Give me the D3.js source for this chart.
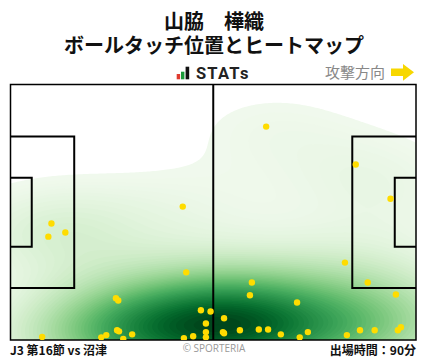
<!DOCTYPE html>
<html><head><meta charset="utf-8">
<script src="https://cdn.jsdelivr.net/npm/d3@7"></script>
<style>body{margin:0;background:#fff}svg{display:block}</style>
</head><body>
<script>
// ---- data ----
const titleLines = ["山脇　樺織", "ボールタッチ位置とヒートマップ"];
const footerLeft = "J3 第16節 vs 沼津";
const footerRight = "出場時間：90分";
const creditText = "© SPORTERIA";
const directionLabel = "攻撃方向";
const brandText = "STATs";
// touch positions, metres (x: 0-105 towards attack, y: 0-68 top to bottom)
const touchX = [66.2, 89.4, 98.4, 44.6, 10.6, 14.2, 9.8, 45.5, 27.3, 27.9, 8.2, 23.5, 24.8, 27.6, 28.1,
  29.2, 31.5, 44.9, 47.3, 49.3, 51.8, 50.6, 50.6, 50.6, 62.5, 62.0, 74.2, 55.3, 55.0, 55.3, 59.4,
  64.3, 66.7, 70.0, 74.9, 77.0, 86.6, 92.5, 99.8, 87.1, 90.5, 94.3, 100.3, 101.1];
const touchY = [11.2, 21.3, 30.4, 32.5, 37.0, 39.4, 40.5, 50.0, 56.9, 57.5, 67.2, 67.3, 66.7, 65.4, 65.7,
  67.7, 66.5, 67.5, 67.0, 60.1, 60.4, 63.6, 65.9, 67.3, 52.7, 56.1, 58.0, 62.2, 65.9, 66.2, 65.4,
  65.2, 65.2, 66.5, 67.3, 65.9, 47.4, 52.7, 55.9, 66.7, 65.4, 65.4, 65.4, 64.6];
const pitchLength = 105, pitchWidth = 68;
const penaltyDepth = 16.5, penaltyWidth = 40.32, goalAreaDepth = 5.5, goalAreaWidth = 18.32;

// ---- layout ----
const W = 428, H = 359;
const svg = d3.select("body").append("svg").attr("width", W).attr("height", H);
const x = d3.scaleLinear().domain([0, pitchLength]).range([10.5, 416]);
const y = d3.scaleLinear().domain([0, pitchWidth]).range([84.5, 340]);

// ---- KDE (gaussian, Scott's rule, full covariance) ----
const bwAdjust = 1.2;
const n = touchX.length;
const mx = d3.mean(touchX), my = d3.mean(touchY);
let sxx = 0, syy = 0, sxy = 0;
for (let i = 0; i < n; i++) {
  const dx = touchX[i] - mx, dy = touchY[i] - my;
  sxx += dx * dx; syy += dy * dy; sxy += dx * dy;
}
sxx /= (n - 1); syy /= (n - 1); sxy /= (n - 1);
const f2 = Math.pow(n, -2 / 6) * bwAdjust * bwAdjust;
const cxx = sxx * f2, cyy = syy * f2, cxy = sxy * f2;
const det = cxx * cyy - cxy * cxy;
const ia = cyy / det, ib = -cxy / det, ic = cxx / det;
function dens(px, py) {
  let s = 0;
  for (let i = 0; i < n; i++) {
    const dx = px - touchX[i], dy = py - touchY[i];
    s += Math.exp(-0.5 * (ia * dx * dx + 2 * ib * dx * dy + ic * dy * dy));
  }
  return s;
}
// iso-proportion levels on an extended support grid (cut = 3 bandwidths)
const bx = Math.sqrt(cxx), by = Math.sqrt(cyy);
const gx0 = d3.min(touchX) - 3 * bx, gx1 = d3.max(touchX) + 3 * bx;
const gy0 = d3.min(touchY) - 3 * by, gy1 = d3.max(touchY) + 3 * by;
const G = 200, supp = [];
for (let j = 0; j < G; j++) for (let i = 0; i < G; i++)
  supp.push(dens(gx0 + (gx1 - gx0) * i / (G - 1), gy0 + (gy1 - gy0) * j / (G - 1)));
const sorted = supp.slice().sort((a, b) => a - b);
const total = d3.sum(sorted);
const cum = []; let acc = 0;
for (const v of sorted) { acc += v; cum.push(acc / total); }
const lowMass = 0.05, nLevels = 60;
const levels = d3.range(nLevels).map(k => {
  const q = lowMass + (1 - lowMass) * k / (nLevels - 1);
  const idx = d3.bisectLeft(cum, q);
  return sorted[Math.min(idx, sorted.length - 1)];
});
const lMin = levels[0], lMax = levels[levels.length - 1];

// render grid over the pitch
const step = 0.5, ox = -2, oy = -2;
const nx = Math.round((pitchLength + 4) / step) + 1, ny = Math.round((pitchWidth + 4) / step) + 1;
const grid = new Float64Array(nx * ny);
for (let j = 0; j < ny; j++) for (let i = 0; i < nx; i++)
  grid[j * nx + i] = dens(ox + i * step, oy + j * step);
const contours = d3.contours().size([nx, ny]).thresholds(levels)(grid);
const proj = d3.geoTransform({
  point: function (cx, cy) {
    this.stream.point(x(ox + (cx - 0.5) * step), y(oy + (cy - 0.5) * step));
  }
});
const pathGen = d3.geoPath(proj);

svg.append("clipPath").attr("id", "pitchClip").append("rect")
  .attr("x", x(0)).attr("y", y(0)).attr("width", x(pitchLength) - x(0)).attr("height", y(pitchWidth) - y(0));

const colorNorm = d3.scaleLinear().domain([lMin, lMax]).range([0.04, 1]).clamp(true);
const heat = svg.append("g").attr("clip-path", "url(#pitchClip)");
contours.forEach((c, k) => {
  const next = k + 1 < levels.length ? levels[k + 1] : c.value;
  heat.append("path").attr("d", pathGen(c))
    .attr("fill", d3.interpolateGreens(colorNorm((c.value + next) / 2)));
});

// ---- pitch lines ----
const lines = svg.append("g").attr("fill", "none").attr("stroke", "#000").attr("stroke-width", 2);
lines.append("rect").attr("x", x(0)).attr("y", y(0)).attr("width", x(pitchLength) - x(0))
  .attr("height", y(pitchWidth) - y(0)).attr("stroke-width", 1.5);
lines.append("line").attr("x1", x(pitchLength / 2)).attr("x2", x(pitchLength / 2))
  .attr("y1", y(0)).attr("y2", y(pitchWidth));
const boxes = [[0, penaltyDepth, penaltyWidth], [0, goalAreaDepth, goalAreaWidth],
  [pitchLength - penaltyDepth, penaltyDepth, penaltyWidth], [pitchLength - goalAreaDepth, goalAreaDepth, goalAreaWidth]];
boxes.forEach(([bx0, d, w]) => {
  const y0 = (pitchWidth - w) / 2, y1 = (pitchWidth + w) / 2;
  const xa = bx0 === 0 ? x(0) : x(pitchLength), xb = bx0 === 0 ? x(d) : x(bx0);
  lines.append("path").attr("d", `M${xa},${y(y0)}H${xb}V${y(y1)}H${xa}`);
});

// ---- touches ----
svg.append("g").attr("clip-path", "url(#pitchClip)").selectAll("circle")
  .data(d3.range(n)).join("circle")
  .attr("cx", i => x(touchX[i])).attr("cy", i => y(touchY[i])).attr("r", 3.2)
  .attr("fill", "#ffdc00");

// ---- titles ----
const jp = "'Noto Sans CJK JP', 'Noto Sans', sans-serif";
const title = svg.append("text").attr("text-anchor", "middle")
  .attr("font-family", jp).attr("font-weight", 700).attr("font-size", 20).attr("fill", "#111");
title.selectAll("tspan").data(titleLines).join("tspan")
  .attr("x", 214).attr("y", (d, i) => 28.5 + i * 24.5).text(d => d);

// brand
const brand = svg.append("g");
[[176.7, 74, 3.4, "#e03a2f"], [181, 71.7, 3.4, "#1a9a3a"], [185.6, 66.7, 3.6, "#111"]].forEach(([bx0, by0, bw, col]) => {
  brand.append("rect").attr("x", bx0).attr("y", by0).attr("width", bw).attr("height", 79.3 - by0).attr("fill", col);
});
brand.append("text").attr("x", 196).attr("y", 79.3).attr("font-family", "Roboto, sans-serif")
  .attr("font-weight", 700).attr("font-size", 16.5).attr("letter-spacing", 1.2).attr("fill", "#222").text(brandText);

// attack direction
svg.append("text").attr("x", 385).attr("y", 78).attr("text-anchor", "end")
  .attr("font-family", jp).attr("font-size", 15).attr("fill", "#888").text(directionLabel);
svg.append("path").attr("d", "M391,68.5H403V64L414,72.3L403,80.7V76H391Z").attr("fill", "#f7d700");

// footer
svg.append("text").attr("x", 10).attr("y", 354.5).attr("font-family", jp).attr("font-weight", 700)
  .attr("font-size", 12).attr("fill", "#111").text(footerLeft);
svg.append("text").attr("x", 416).attr("y", 354.5).attr("text-anchor", "end").attr("font-family", jp)
  .attr("font-weight", 700).attr("font-size", 12).attr("fill", "#111").text(footerRight);
svg.append("text").attr("x", 214).attr("y", 352).attr("text-anchor", "middle").attr("font-family", "'Open Sans', sans-serif")
  .attr("font-size", 10).attr("fill", "#999").text(creditText);
</script>
</body></html>
